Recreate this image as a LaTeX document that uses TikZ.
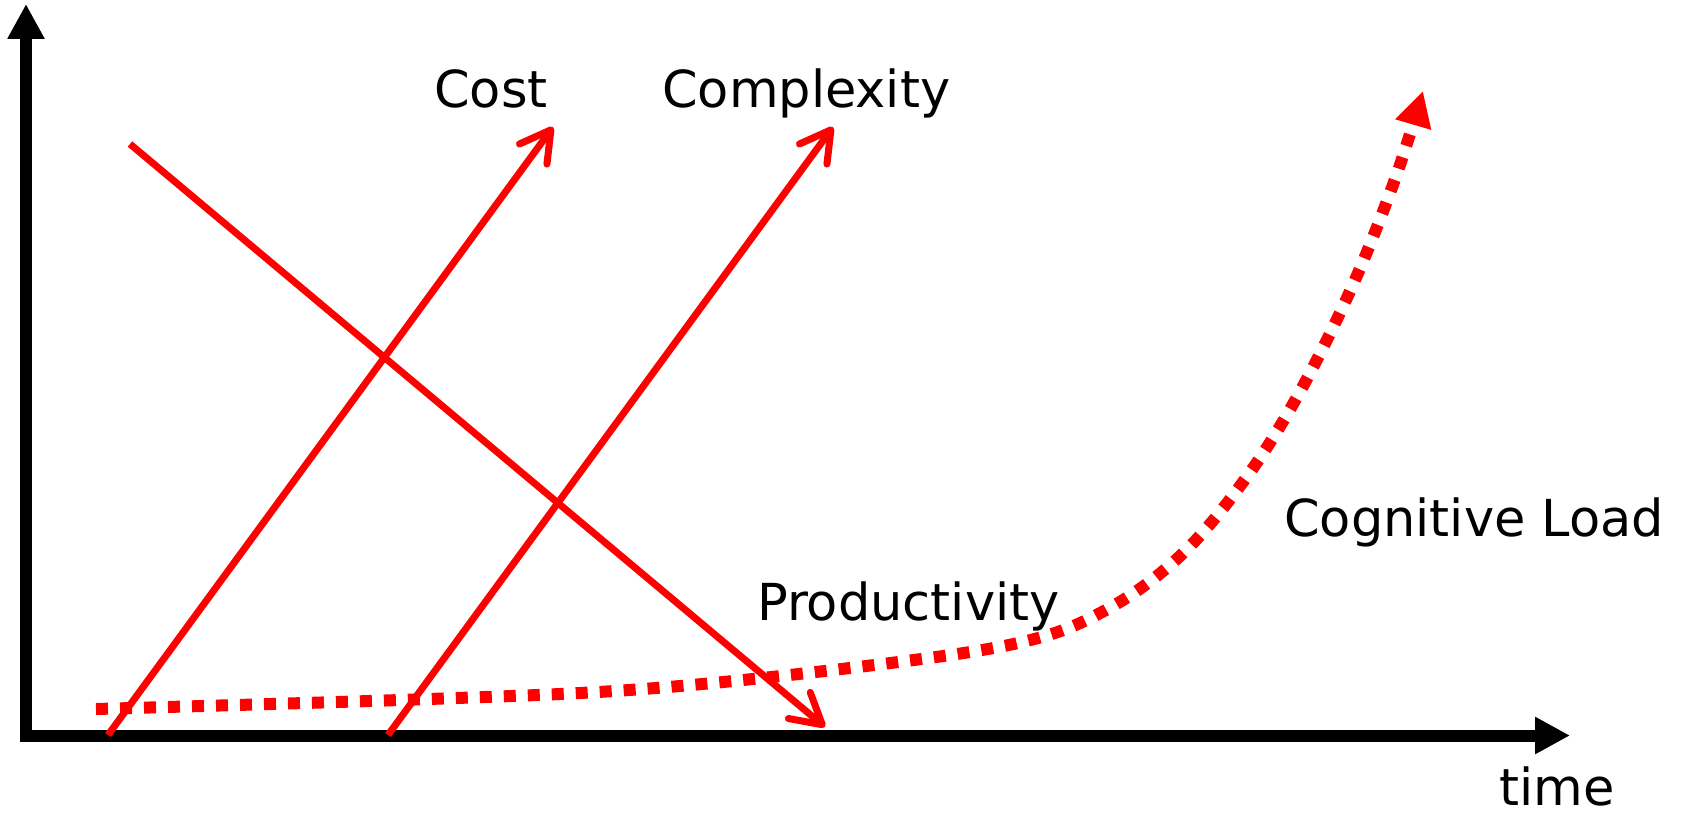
\documentclass[tikz,border=0pt]{standalone}
\usepackage{fontspec}
\setmainfont{DejaVu Sans}
\usetikzlibrary{arrows.meta}
\begin{document}
\begin{tikzpicture}[x=1pt,y=-1pt,
  axis/.style={line width=12pt, line cap=butt, -{Triangle[length=35pt,width=35pt]}},
  redarrow/.style={red, line width=7pt, line cap=butt, -{Straight Barb[length=30pt,width=34pt,round]}},
  dotcurve/.style={red, line width=12pt, dash pattern=on 12pt off 12pt, -{Triangle[length=35pt,width=35pt]}},
  lbl/.style={anchor=base west, inner sep=0pt, font=\fontsize{51}{60}\selectfont}]
\useasboundingbox (0,0) rectangle (1681,816);
% axes
\coordinate (origin) at (26,741.5);
\coordinate (ytip) at (26,4);
\coordinate (xstart) at (20,735.5);
\coordinate (xtip) at (1570,735.5);
\draw[axis] (origin) -- (ytip);
\draw[axis] (xstart) -- (xtip);
% red lines
\coordinate (cost0) at (108,735);
\coordinate (cost1) at (553,127);
\coordinate (cplx0) at (388,735);
\coordinate (cplx1) at (833,127);
\coordinate (prod0) at (130,144);
\coordinate (prod1) at (825,727);
\draw[redarrow] (cost0) -- (cost1);
\draw[redarrow] (cplx0) -- (cplx1);
\draw[redarrow] (prod0) -- (prod1);
% cognitive load curve
\draw[dotcurve] plot[smooth, tension=0.6] coordinates {(96,709) (429,699) (643,689) (858,667) (1018,643) (1104,611) (1179,557) (1243,482) (1297,397) (1351,289) (1394,182) (1423,91)};
% labels
\node[lbl] (tcost) at (434,107) {Cost};
\node[lbl] (tcplx) at (662,107) {Complexity};
\node[lbl] (tprod) at (757,620) {Productivity};
\node[lbl] (tcog) at (1284,536) {Cognitive Load};
\node[lbl] (ttime) at (1499,805) {time};
\end{tikzpicture}
\end{document}
